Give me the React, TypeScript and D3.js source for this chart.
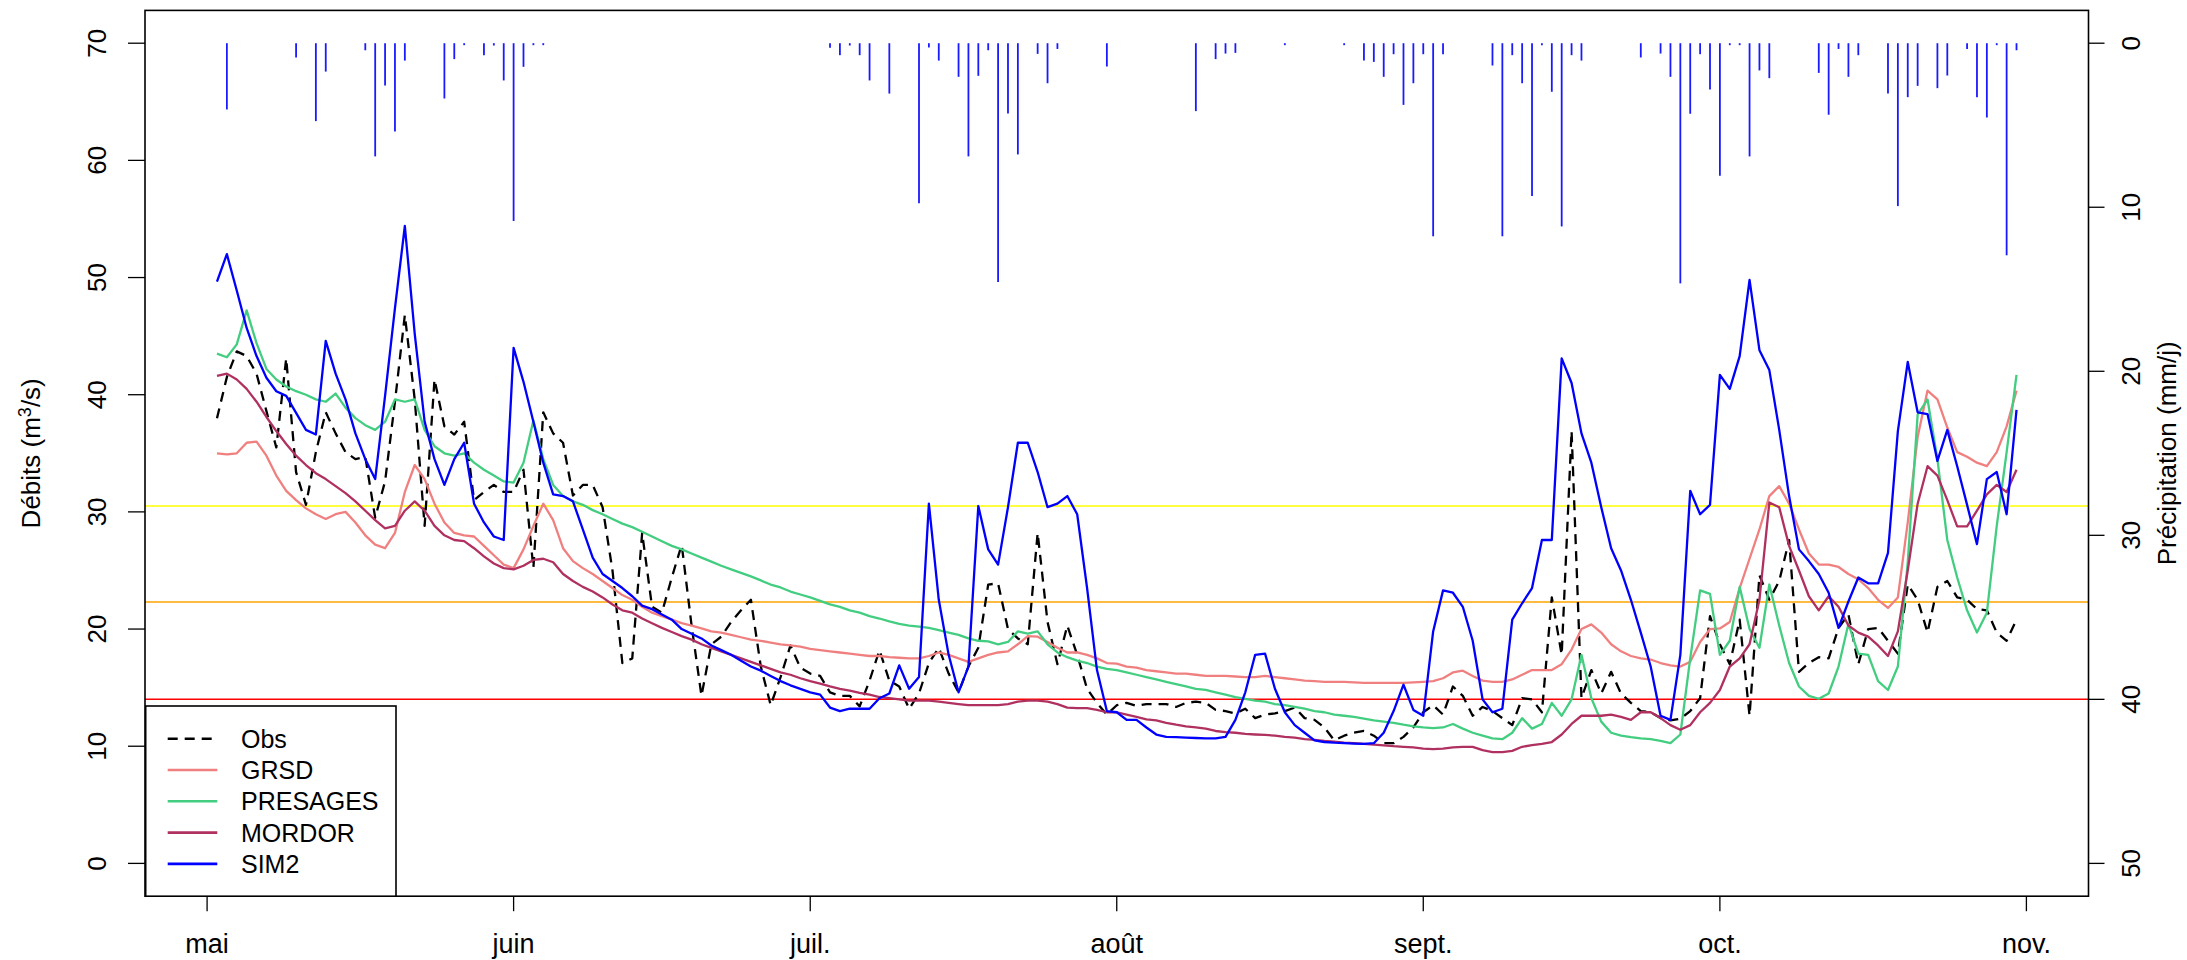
import * as d3 from 'd3';

// Daily series, 2 May -> 31 Oct (183 days)
const MAY1 = Date.UTC(2019, 4, 1);
const DAY_MS = 86400000;

const obs = [
  38.0, 41.5, 43.7, 43.3, 41.8, 38.6, 35.5, 43.1, 33.4, 30.6,
  35.1, 38.5, 36.7, 35.1, 34.5, 34.7, 29.5, 32.6, 39.4, 46.8,
  39.6, 28.8, 41.3, 37.3, 36.6, 37.7, 31.0, 31.7, 32.3, 31.7,
  31.7, 33.6, 25.2, 38.5, 36.7, 35.9, 31.4, 32.3, 32.3, 30.4,
  25.0, 17.1, 17.5, 28.2, 21.9, 21.4, 24.4, 27.2, 20.3, 14.3,
  18.7, 19.35, 20.6, 21.6, 22.5, 16.8, 13.5, 15.9, 18.6, 16.7,
  16.2, 16.0, 14.6, 14.3, 14.3, 13.4, 15.6, 18.2, 15.6, 15.1,
  13.2, 14.5, 17.1, 18.4, 16.2, 14.6, 16.8, 18.4, 23.8, 23.9,
  20.0, 19.2, 18.7, 28.2, 20.6, 17.0, 20.3, 17.8, 14.9, 13.7,
  12.7, 13.5, 13.7, 13.45, 13.6, 13.6, 13.6, 13.35, 13.7, 13.8,
  13.7, 13.1, 13.0, 12.8, 13.2, 12.4, 12.7, 12.8, 13.0, 13.3,
  12.4, 12.25, 11.6, 10.5, 10.9, 11.15, 11.3, 10.9, 10.26, 10.26,
  10.8, 11.6, 12.9, 13.5, 12.7, 15.1, 14.3, 12.6, 13.35, 13.0,
  12.4, 11.8, 14.1, 14.0, 12.9, 22.7, 17.8, 36.9, 14.1, 16.5,
  14.5, 16.35, 14.5, 13.7, 13.0, 12.9, 12.4, 12.2, 12.35, 13.0,
  14.1, 21.1, 18.7, 17.0, 20.8, 12.6, 24.6, 22.5, 24.1, 27.6,
  16.35, 17.1, 17.6, 17.5, 20.1, 21.25, 17.0, 20.0, 20.1, 19.0,
  17.9, 23.8, 22.5, 19.7, 23.6, 24.1, 22.7, 22.5, 21.7, 21.6,
  19.7, 19.0, 20.8,
];

const grsd = [
  35.0, 34.9, 35.0, 35.9, 36.0, 34.8, 33.1, 31.8, 31.0, 30.3,
  29.8, 29.4, 29.8, 30.0, 29.1, 28.0, 27.2, 26.9, 28.2, 31.7,
  34.0, 32.8, 30.7, 29.1, 28.2, 28.0, 27.9, 27.1, 26.3, 25.5,
  25.2, 26.8, 28.8, 30.7, 29.3, 26.9, 25.8, 25.2, 24.7, 24.1,
  23.5, 22.9, 22.5, 21.9, 21.4, 21.1, 20.8, 20.5, 20.3, 20.05,
  19.8, 19.7, 19.5, 19.3, 19.1, 19.0, 18.85, 18.7, 18.6, 18.5,
  18.3, 18.2, 18.1, 18.0, 17.9, 17.8, 17.7, 17.7, 17.6, 17.55,
  17.5, 17.5, 17.7, 18.0, 17.8, 17.5, 17.2, 17.5, 17.8, 18.0,
  18.1, 18.7, 19.4, 19.35, 18.9, 18.4, 18.0, 18.0, 17.8, 17.5,
  17.1, 17.05, 16.8, 16.7, 16.5, 16.4, 16.3, 16.2, 16.2, 16.1,
  16.0, 16.0, 16.0, 15.95, 15.9, 15.9, 16.0, 15.9, 15.8, 15.7,
  15.6, 15.56, 15.5, 15.5, 15.5, 15.45, 15.4, 15.4, 15.4, 15.4,
  15.4, 15.45, 15.5, 15.56, 15.8, 16.3, 16.45, 16.0, 15.6, 15.5,
  15.5, 15.7, 16.1, 16.5, 16.5, 16.5, 17.0, 18.25, 20.0, 20.4,
  19.7, 18.7, 18.1, 17.7, 17.5, 17.4, 17.1, 16.9, 16.8, 17.2,
  18.9, 20.0, 20.05, 20.6, 23.5, 26.0, 28.5, 31.35, 32.2, 30.7,
  28.5, 26.45, 25.5, 25.5, 25.3, 24.7, 24.25, 23.5, 22.5, 21.8,
  22.7, 29.1, 36.4, 40.35, 39.6, 37.2, 35.1, 34.7, 34.2, 33.9,
  35.1, 37.3, 40.35,
];

const presages = [
  43.5, 43.2, 44.3, 47.2, 44.4, 42.2, 41.3, 40.7, 40.3, 40.0,
  39.6, 39.4, 40.1, 38.9, 38.0, 37.4, 37.0, 37.7, 39.6, 39.4,
  39.6, 37.0, 35.6, 35.0, 34.8, 35.0, 34.2, 33.6, 33.1, 32.6,
  32.5, 34.2, 37.8, 34.5, 32.3, 31.35, 30.9, 30.6, 30.15, 29.8,
  29.4, 29.0, 28.7, 28.3, 27.9, 27.5, 27.1, 26.8, 26.45, 26.1,
  25.75, 25.4, 25.1, 24.8, 24.5, 24.15, 23.8, 23.55, 23.2, 22.95,
  22.7, 22.4, 22.1, 21.9, 21.6, 21.4, 21.1, 20.9, 20.65, 20.45,
  20.3, 20.2, 20.1, 19.9, 19.7, 19.5, 19.2, 19.0, 18.95, 18.7,
  18.9, 19.8, 19.6, 19.8, 18.7, 18.0, 17.6, 17.3, 17.1, 16.8,
  16.6, 16.5, 16.3, 16.1, 15.9, 15.7, 15.5, 15.3, 15.1, 14.9,
  14.8, 14.6, 14.4, 14.2, 14.05, 13.9, 13.8, 13.6, 13.5, 13.35,
  13.2, 13.0, 12.9, 12.7, 12.6, 12.5, 12.35, 12.2, 12.1, 12.0,
  11.84, 11.7, 11.6, 11.55, 11.6, 11.9, 11.5, 11.15, 10.9, 10.67,
  10.6, 11.15, 12.4, 11.5, 11.9, 13.7, 12.6, 14.0, 17.8, 14.1,
  12.1, 11.15, 10.9, 10.77, 10.67, 10.6, 10.45, 10.26, 11.0, 17.5,
  23.3, 23.0, 17.8, 19.0, 23.6, 20.0, 18.4, 23.8, 20.3, 17.1,
  15.1, 14.3, 14.05, 14.5, 16.8, 20.45, 17.9, 17.8, 15.56, 14.8,
  16.8, 25.7, 38.3, 39.6, 34.5, 27.6, 24.4, 21.6, 19.7, 21.4,
  28.8, 35.1, 41.7,
];

const mordor = [
  41.6, 41.8, 41.3, 40.5, 39.4, 38.1, 36.9, 35.8, 34.8, 34.0,
  33.3, 32.8, 32.2, 31.6, 30.9, 30.1, 29.3, 28.6, 28.8, 30.1,
  30.9, 30.1, 28.8, 28.0, 27.6, 27.5, 26.9, 26.2, 25.6, 25.2,
  25.1, 25.4, 25.9, 26.0, 25.7, 24.7, 24.1, 23.6, 23.2, 22.7,
  22.1, 21.6, 21.4, 20.9, 20.5, 20.1, 19.75, 19.4, 19.1, 18.7,
  18.4, 18.1, 17.8, 17.5, 17.2, 16.9, 16.6, 16.3, 16.1, 15.8,
  15.56, 15.35, 15.1, 14.9, 14.75, 14.55, 14.4, 14.2, 14.1, 14.0,
  13.9, 13.9, 13.9, 13.8, 13.7, 13.6, 13.5, 13.5, 13.5, 13.5,
  13.6, 13.8, 13.9, 13.9, 13.8, 13.6, 13.3, 13.25, 13.25, 13.1,
  12.9, 12.9, 12.7, 12.5, 12.3, 12.2, 12.0, 11.84, 11.7, 11.6,
  11.5, 11.3, 11.2, 11.15, 11.05, 11.0, 10.96, 10.9, 10.8, 10.73,
  10.6, 10.55, 10.45, 10.4, 10.3, 10.26, 10.2, 10.14, 10.07, 10.0,
  9.95, 9.9, 9.8, 9.75, 9.8, 9.9, 9.95, 9.95, 9.66, 9.5,
  9.5, 9.6, 9.95, 10.1, 10.2, 10.36, 11.0, 11.9, 12.6, 12.6,
  12.6, 12.7, 12.5, 12.25, 12.9, 12.9, 12.4, 11.8, 11.4, 11.8,
  12.9, 13.7, 14.8, 16.8, 17.5, 18.7, 22.5, 30.8, 30.4, 27.1,
  25.0, 22.8, 21.6, 22.8, 21.9, 20.3, 19.7, 19.35, 18.6, 17.7,
  19.8, 25.0, 30.7, 33.9, 33.1, 31.0, 28.76, 28.76, 30.1, 31.5,
  32.3, 31.7, 33.6,
];

const sim2 = [
  49.66, 52.0, 48.9, 45.7, 43.3, 41.45, 40.3, 39.9, 38.45, 37.0,
  36.6, 44.6, 41.8, 39.6, 36.7, 34.5, 32.8, 39.9, 47.4, 54.4,
  45.2, 37.7, 34.5, 32.3, 34.5, 35.9, 30.7, 29.1, 27.9, 27.6,
  44.0, 41.1, 37.7, 34.2, 31.5, 31.35, 30.9, 28.5, 26.1, 24.7,
  24.1, 23.5, 22.8, 22.0, 21.7, 21.25, 20.8, 20.0, 19.6, 19.2,
  18.6, 18.2, 17.8, 17.3, 16.8, 16.45, 16.0, 15.56, 15.2, 14.9,
  14.6, 14.4, 13.3, 13.0, 13.2, 13.2, 13.2, 14.1, 14.5, 16.9,
  14.9, 15.9, 30.7, 22.5, 17.8, 14.6, 16.8, 30.5, 26.8, 25.5,
  30.4, 35.9, 35.9, 33.4, 30.4, 30.7, 31.35, 29.8, 23.5, 16.5,
  13.0, 12.9, 12.25, 12.25, 11.6, 11.0, 10.8, 10.77, 10.73, 10.7,
  10.67, 10.67, 10.8, 12.25, 14.6, 17.8, 17.9, 14.9, 12.9, 11.8,
  11.15, 10.5, 10.36, 10.3, 10.26, 10.23, 10.2, 10.26, 11.15, 13.0,
  15.25, 13.1, 12.6, 19.8, 23.3, 23.1, 21.9, 19.0, 14.0, 12.9,
  13.2, 20.8, 22.2, 23.5, 27.6, 27.6, 43.1, 41.0, 36.7, 34.2,
  30.4, 26.9, 25.0, 22.5, 19.7, 16.8, 12.6, 12.25, 17.8, 31.8,
  29.8, 30.6, 41.7, 40.5, 43.3, 49.8, 43.8, 42.1, 37.0, 31.35,
  26.8, 25.8, 24.7, 23.1, 20.1, 22.35, 24.4, 23.9, 23.9, 26.5,
  36.9, 42.8, 38.5, 38.35, 34.35, 37.0, 33.9, 30.6, 27.25, 32.8,
  33.4, 29.8, 38.7,
];

// Precipitation: day offset from 1 May, and mm/day
const precipDay = [
  2, 9, 11, 12, 16, 17, 18, 19, 20, 24, 25, 26, 28, 29, 30, 31, 32, 33, 34,
  63, 64, 65, 66, 67, 69, 72, 73, 74, 76, 77, 78, 79, 80, 81, 82, 84, 85, 86,
  91, 100, 102, 103, 104, 109, 115, 117, 118, 119, 120, 121, 122, 123, 124, 125,
  130, 131, 132, 133, 134, 135, 136, 137, 138, 139, 145, 147, 148, 149, 150, 151,
  152, 153, 154, 155, 156, 157, 158, 163, 164, 165, 166, 167, 170, 171, 172, 173,
  175, 176, 178, 179, 180, 181, 182, 183,
];
const precipMm = [
  4.04, 0.87, 4.75, 1.73, 0.43, 6.9, 2.58, 5.38, 1.06, 3.37, 0.97, 0.12, 0.73, 0.14, 2.27, 10.84, 1.44, 0.12, 0.12,
  0.27, 0.73, 0.14, 0.73, 2.27, 3.07, 9.76, 0.26, 1.06, 2.05, 6.9, 1.99, 0.43, 14.55, 4.28, 6.78, 0.65, 2.44, 0.35,
  1.42, 4.14, 0.97, 0.63, 0.59, 0.12, 0.12, 1.06, 1.14, 2.05, 0.67, 3.76, 2.44, 0.67, 11.77, 0.67,
  1.36, 11.77, 0.73, 2.44, 9.32, 0.12, 2.96, 11.17, 0.73, 1.06, 0.87, 0.63, 2.05, 14.64, 4.3, 0.67,
  2.82, 8.08, 0.12, 0.12, 6.9, 1.66, 2.13, 1.81, 4.36, 0.35, 2.05, 0.73, 3.07, 9.93, 3.29, 2.6,
  2.74, 1.97, 0.35, 3.29, 4.53, 0.12, 12.93, 0.43,
];

// Alert thresholds (m3/s)
const thresholds = [30.5, 22.3, 14.0];
const thresholdColors = ['#ffff00', '#ffa500', '#ff0000'];

const monthLabels = ['mai', 'juin', 'juil.', 'août', 'sept.', 'oct.', 'nov.'];
const flowTicks = [0, 10, 20, 30, 40, 50, 60, 70];
const precipTicks = [0, 10, 20, 30, 40, 50];

const seriesNames = ['Obs', 'GRSD', 'PRESAGES', 'MORDOR', 'SIM2'];
const seriesValues = [obs, grsd, presages, mordor, sim2];
const seriesColors = ['#000000', '#f08080', '#43cd80', '#b03060', '#0000ff'];

const W = 2187;
const H = 960;
const FONT = '"Liberation Sans", Arial, sans-serif';

export default function App() {
  const box = { left: 145, right: 2088.5, top: 10.4, bottom: 896.2 };

  const n = obs.length;
  const dateOf = (offset: number) => new Date(MAY1 + offset * DAY_MS);
  const t0 = MAY1 + DAY_MS;
  const t1 = MAY1 + n * DAY_MS;
  const pad = (t1 - t0) * 0.04;

  const x = d3.scaleUtc().domain([new Date(t0 - pad), new Date(t1 + pad)]).range([box.left, box.right]);
  // R-style 4% padding on ylim = c(0, 70) and reversed c(0, 50)
  const y = d3.scaleLinear().domain([-2.8, 72.8]).range([box.bottom, box.top]);
  const yP = d3.scaleLinear().domain([-2, 52]).range([box.top, box.bottom]);

  const line = d3.line<number>()
    .x((_, i) => x(dateOf(i + 1)))
    .y(d => y(d));

  const monthTicks = d3.utcMonth.range(new Date(MAY1), new Date(Date.UTC(2019, 10, 2)));

  const legend = { x: 145.7, y: 706, w: 250.3, rowH: 31.3 };

  return (
    <svg width={W} height={H} style={{ position: 'absolute', left: 0, top: 0, background: '#fff' }}
      fontFamily={FONT}>
      <rect x={0} y={0} width={W} height={H} fill="#fff" />

      {/* precipitation bars hanging from the top */}
      <g stroke="#1a1aff" strokeWidth={1.8}>
        {precipDay.map((d, i) => (
          <line key={i} x1={x(dateOf(d))} x2={x(dateOf(d))} y1={yP(0)} y2={yP(precipMm[i])} />
        ))}
      </g>

      {/* thresholds */}
      {thresholds.map((v, i) => (
        <line key={i} x1={box.left} x2={box.right} y1={y(v)} y2={y(v)} stroke={thresholdColors[i]} strokeWidth={1.5} />
      ))}

      {/* flow series */}
      <g fill="none" strokeWidth={2.3} strokeLinejoin="round">
        {seriesValues.map((vals, i) => (
          <path key={seriesNames[i]} d={line(vals) ?? ''} stroke={seriesColors[i]}
            strokeDasharray={i === 0 ? '10 7' : undefined} />
        ))}
      </g>

      {/* frame */}
      <rect x={box.left} y={box.top} width={box.right - box.left} height={box.bottom - box.top}
        fill="none" stroke="#000" strokeWidth={1.6} />

      {/* left axis */}
      <g stroke="#000" strokeWidth={1.3}>
        {flowTicks.map(t => <line key={t} x1={box.left - 17} x2={box.left} y1={y(t)} y2={y(t)} />)}
      </g>
      {flowTicks.map(t => (
        <text key={t} transform={`translate(106,${y(t)}) rotate(-90)`} textAnchor="middle" fontSize={26}>{t}</text>
      ))}
      <text transform={`translate(40,${(box.top + box.bottom) / 2}) rotate(-90)`} textAnchor="middle" fontSize={26}>
        Débits (m<tspan dy={-9} fontSize={18}>3</tspan><tspan dy={9}>/s)</tspan>
      </text>

      {/* right axis */}
      <g stroke="#000" strokeWidth={1.3}>
        {precipTicks.map(t => <line key={t} x1={box.right} x2={box.right + 16} y1={yP(t)} y2={yP(t)} />)}
      </g>
      {precipTicks.map(t => (
        <text key={t} transform={`translate(2140,${yP(t)}) rotate(-90)`} textAnchor="middle" fontSize={26}>{t}</text>
      ))}
      <text transform={`translate(2176,${(box.top + box.bottom) / 2}) rotate(-90)`} textAnchor="middle" fontSize={26}>
        Précipitation (mm/j)
      </text>

      {/* bottom axis */}
      <g stroke="#000" strokeWidth={1.3}>
        {monthTicks.map((d, i) => <line key={i} x1={x(d)} x2={x(d)} y1={box.bottom} y2={box.bottom + 15} />)}
      </g>
      {monthTicks.map((d, i) => (
        <text key={i} x={x(d)} y={953} textAnchor="middle" fontSize={27}>{monthLabels[i]}</text>
      ))}

      {/* legend */}
      <rect x={legend.x} y={legend.y} width={legend.w} height={box.bottom - legend.y}
        fill="#fff" stroke="#000" strokeWidth={1.6} />
      {seriesNames.map((name, i) => {
        const cy = legend.y + 32.7 + i * legend.rowH;
        return (
          <g key={name}>
            <line x1={legend.x + 22} x2={legend.x + 71.6} y1={cy} y2={cy} stroke={seriesColors[i]} strokeWidth={2.6}
              strokeDasharray={i === 0 ? '10 7' : undefined} />
            <text x={legend.x + 95.3} y={cy + 9} fontSize={25}>{name}</text>
          </g>
        );
      })}
    </svg>
  );
}
